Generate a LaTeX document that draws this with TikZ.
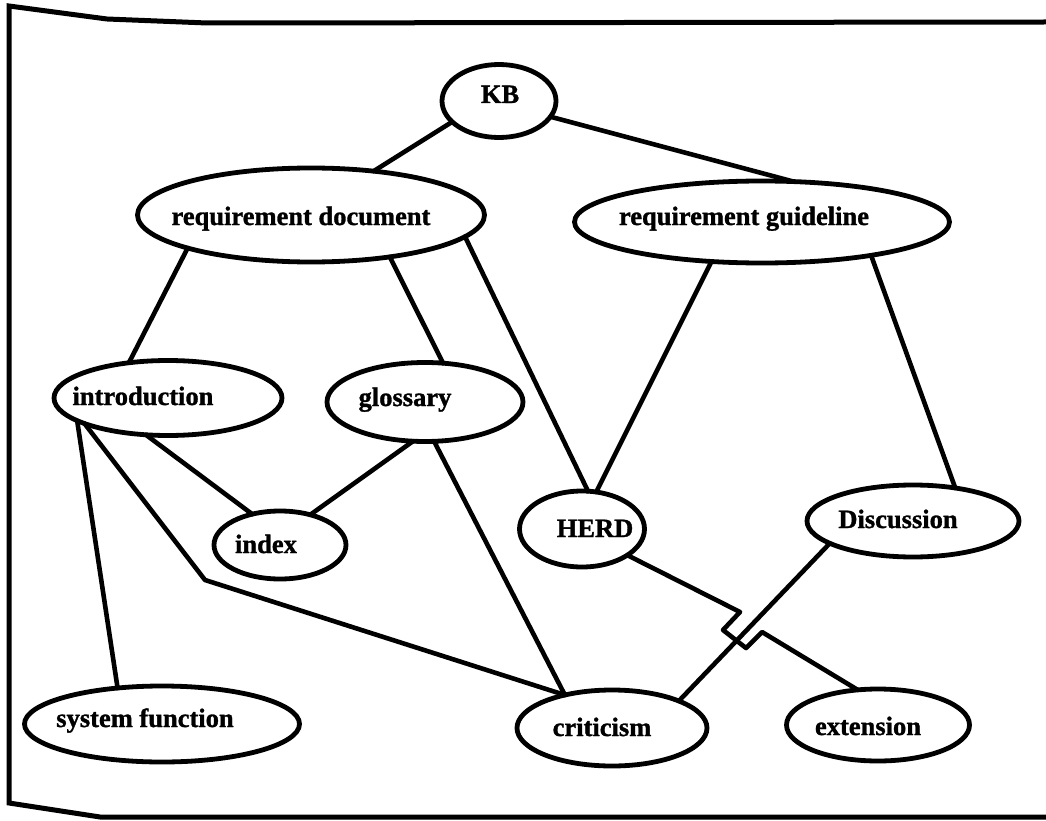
\documentclass[tikz,border=0pt]{standalone}
\usepackage{fontspec}
\setmainfont{Liberation Serif}[BoldFeatures={FakeBold=1.2}]
\usetikzlibrary{shapes.geometric}
\begin{document}
\begin{tikzpicture}[x=1pt,y=-1pt,
  oval/.style={draw, ellipse, line width=4.8pt, inner sep=0pt, outer sep=0pt},
  lbl/.style={anchor=base, inner sep=0pt, font=\fontsize{26.5}{30}\selectfont\bfseries},
  link/.style={line width=4.6pt, line join=round, line cap=round}]
\fill[white] (0,0) rectangle (1046,821);
\useasboundingbox (0,0) rectangle (1046,821);

% hand-drawn frame, open on the right
\draw[line width=5pt, line join=miter]
  (1046,22) -- (207,23) -- (107,19) -- (9,6) -- (9,803) -- (100,817) -- (1046,817);

% concept ovals
\node[oval, minimum width=114pt, minimum height=73pt] (kb)    at (499,101) {};
\node[oval, minimum width=347pt, minimum height=94pt] (rd)    at (311,215) {};
\node[oval, minimum width=375pt, minimum height=82pt] (rg)    at (762,222) {};
\node[oval, minimum width=228pt, minimum height=75pt] (intro) at (168,398) {};
\node[oval, minimum width=196pt, minimum height=79pt] (glos)  at (425,402) {};
\node[oval, minimum width=132pt, minimum height=68pt] (idx)   at (280,545) {};
\node[oval, minimum width=125pt, minimum height=76pt] (herd)  at (582,529) {};
\node[oval, minimum width=212pt, minimum height=72pt] (disc)  at (913,521) {};
\node[oval, minimum width=275pt, minimum height=76pt] (sysf)  at (162,724) {};
\node[oval, minimum width=190pt, minimum height=76pt] (crit)  at (612,728) {};
\node[oval, minimum width=183pt, minimum height=72pt] (ext)   at (878,725) {};

% labels
\node[lbl] (kbt)    at (500,103) {KB};
\node[lbl] (rdt)    at (301,225) {requirement document};
\node[lbl] (rgt)    at (744,225) {requirement guideline};
\node[lbl] (introt) at (143,405) {introduction};
\node[lbl] (glost)  at (405,406) {glossary};
\node[lbl] (idxt)   at (266,553) {index};
\node[lbl] (herdt)  at (595,537) {HERD};
\node[lbl] (disct)  at (898,528) {Discussion};
\node[lbl] (sysft)  at (145,727) {system function};
\node[lbl] (critt)  at (602,736) {criticism};
\node[lbl] (extt)   at (868,735) {extension};

% bend and bridge points
\coordinate (bend) at (205,580);
\coordinate (j1) at (740,612);
\coordinate (j2) at (723,630);
\coordinate (j3) at (746,648);
\coordinate (j4) at (762,632);

% connectors
\draw[link] (kb.204) -- (rd.35);
\draw[link] (kb.343) -- (rg.52);
\draw[link] (rd.195) -- (intro.138);
\draw[link] (rd.332) -- (glos.65);
\draw[link] (rd.352) -- (herd.81);
\draw[link] (rg.218) -- (herd.69);
\draw[link] (rg.343) -- (disc.38);
\draw[link] (intro.239) -- (idx.132);
\draw[link] (glos.253) -- (idx.45);
\draw[link] (intro.194) -- (sysf.141);
\draw[link] (intro.197) -- (bend) -- (crit.145);
\draw[link] (glos.283) -- (crit.145);
\draw[link] (disc.195) -- (crit.22);
\draw[link] (herd.330) -- (j1) -- (j2) -- (j3) -- (j4) -- (ext.120);
\end{tikzpicture}
\end{document}
